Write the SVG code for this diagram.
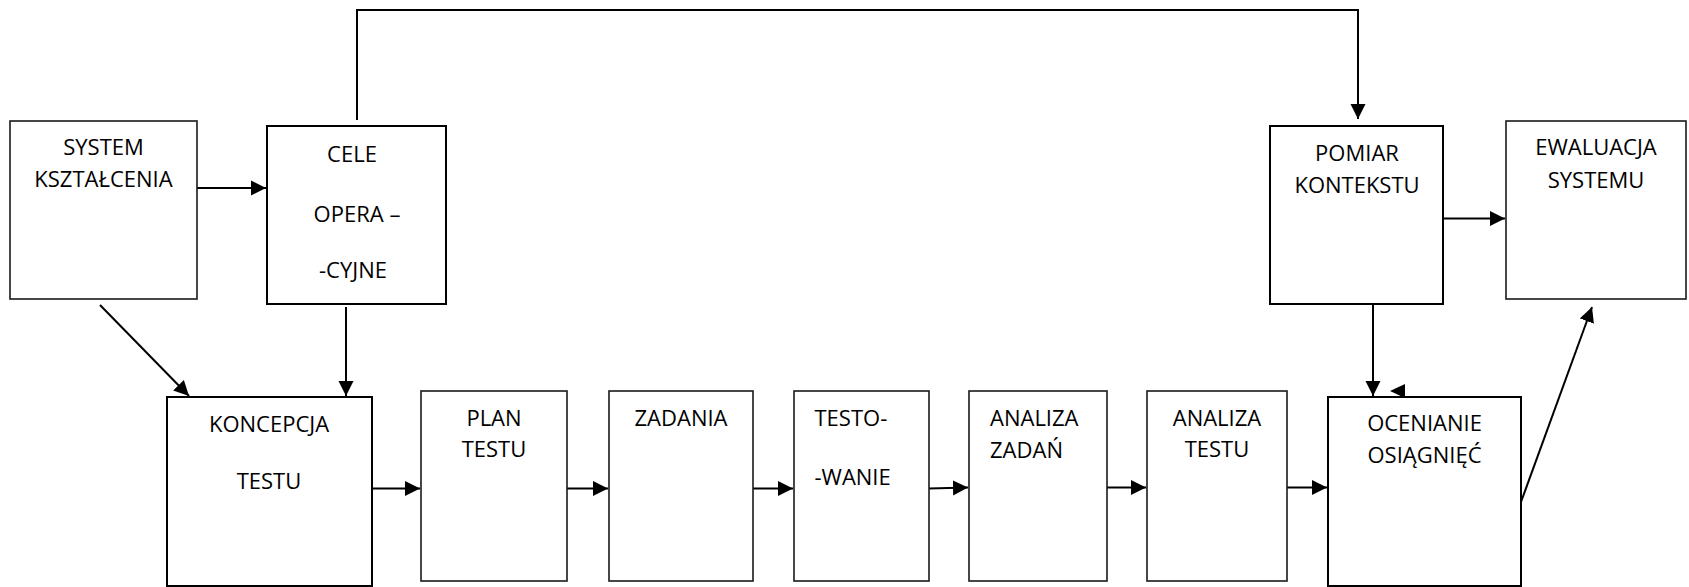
<svg xmlns="http://www.w3.org/2000/svg" width="1689" height="587" viewBox="0 0 1689 587">
<style>
.box{fill:#fff;stroke:#000;stroke-width:2}
.thin{stroke-width:1.6;stroke:#1a1a1a}
.t{font-family:"Open Sans","Noto Sans","Liberation Sans",sans-serif;font-size:22px;fill:#000}
.c{text-anchor:middle}
.ln{fill:none;stroke:#000;stroke-width:2}
</style>
<defs>
<marker id="ah" markerUnits="userSpaceOnUse" markerWidth="16" markerHeight="16" refX="15" refY="7.5" orient="auto" viewBox="0 0 16 15">
<path d="M0,0 L15,7.5 L0,15 z" fill="#000"/>
</marker>
</defs>
<g id="connectors">
<path class="ln" d="M357,120 V10 H1358 V119" marker-end="url(#ah)"/>
<path class="ln" d="M197,188 H266" marker-end="url(#ah)"/>
<path class="ln" d="M100,305 L189,396" marker-end="url(#ah)"/>
<path class="ln" d="M346,307 V396" marker-end="url(#ah)"/>
<path class="ln" d="M372,488.5 H420" marker-end="url(#ah)"/>
<path class="ln" d="M567,488.5 H608" marker-end="url(#ah)"/>
<path class="ln" d="M753,488.5 H793" marker-end="url(#ah)"/>
<path class="ln" d="M929,488.5 L968,487.5" marker-end="url(#ah)"/>
<path class="ln" d="M1107,487.5 H1146" marker-end="url(#ah)"/>
<path class="ln" d="M1287,487.5 H1327" marker-end="url(#ah)"/>
<path class="ln" d="M1443,218.5 H1505" marker-end="url(#ah)"/>
<path class="ln" d="M1373,305 V396" marker-end="url(#ah)"/>
<path class="ln" d="M1521,502 L1592,307" marker-end="url(#ah)"/>
<polygon points="1390,391 1405,384 1405,398" fill="#000"/>
</g>
<g id="system">
<rect class="box thin" x="10" y="121" width="187" height="178"/>
<text class="t c" x="103.5" y="155">SYSTEM</text>
<text class="t c" x="103.5" y="187">KSZTAŁCENIA</text>
</g>
<g id="cele">
<rect class="box" x="267" y="126" width="179" height="178"/>
<text class="t c" x="352" y="161.5">CELE</text>
<text class="t c" x="357" y="221.5">OPERA –</text>
<text class="t c" x="353" y="278">-CYJNE</text>
</g>
<g id="pomiar">
<rect class="box" x="1270" y="126" width="173" height="178"/>
<text class="t c" x="1357" y="161">POMIAR</text>
<text class="t c" x="1357" y="192.5">KONTEKSTU</text>
</g>
<g id="ewaluacja">
<rect class="box thin" x="1506" y="121" width="180" height="178"/>
<text class="t c" x="1596" y="155">EWALUACJA</text>
<text class="t c" x="1596" y="187.5">SYSTEMU</text>
</g>
<g id="koncepcja">
<rect class="box" x="167" y="397" width="205" height="189"/>
<text class="t c" x="269" y="431.5">KONCEPCJA</text>
<text class="t c" x="269" y="489">TESTU</text>
</g>
<g id="plan">
<rect class="box thin" x="421" y="391" width="146" height="190"/>
<text class="t c" x="494" y="425.5">PLAN</text>
<text class="t c" x="494" y="457">TESTU</text>
</g>
<g id="zadania">
<rect class="box thin" x="609" y="391" width="144" height="190"/>
<text class="t c" x="681" y="425.5">ZADANIA</text>
</g>
<g id="testowanie">
<rect class="box thin" x="794" y="391" width="135" height="190"/>
<text class="t" x="814.5" y="425.5">TESTO-</text>
<text class="t" x="814.5" y="485">-WANIE</text>
</g>
<g id="analiza-zadan">
<rect class="box thin" x="969" y="391" width="138" height="190"/>
<text class="t" x="990" y="425.5">ANALIZA</text>
<text class="t" x="990" y="458">ZADAŃ</text>
</g>
<g id="analiza-testu">
<rect class="box thin" x="1147" y="391" width="140" height="190"/>
<text class="t c" x="1217" y="425.5">ANALIZA</text>
<text class="t c" x="1217" y="456.5">TESTU</text>
</g>
<g id="ocenianie">
<rect class="box" x="1328" y="397" width="193" height="189"/>
<text class="t c" x="1424.5" y="431">OCENIANIE</text>
<text class="t c" x="1424.5" y="463">OSIĄGNIĘĆ</text>
</g>
</svg>
